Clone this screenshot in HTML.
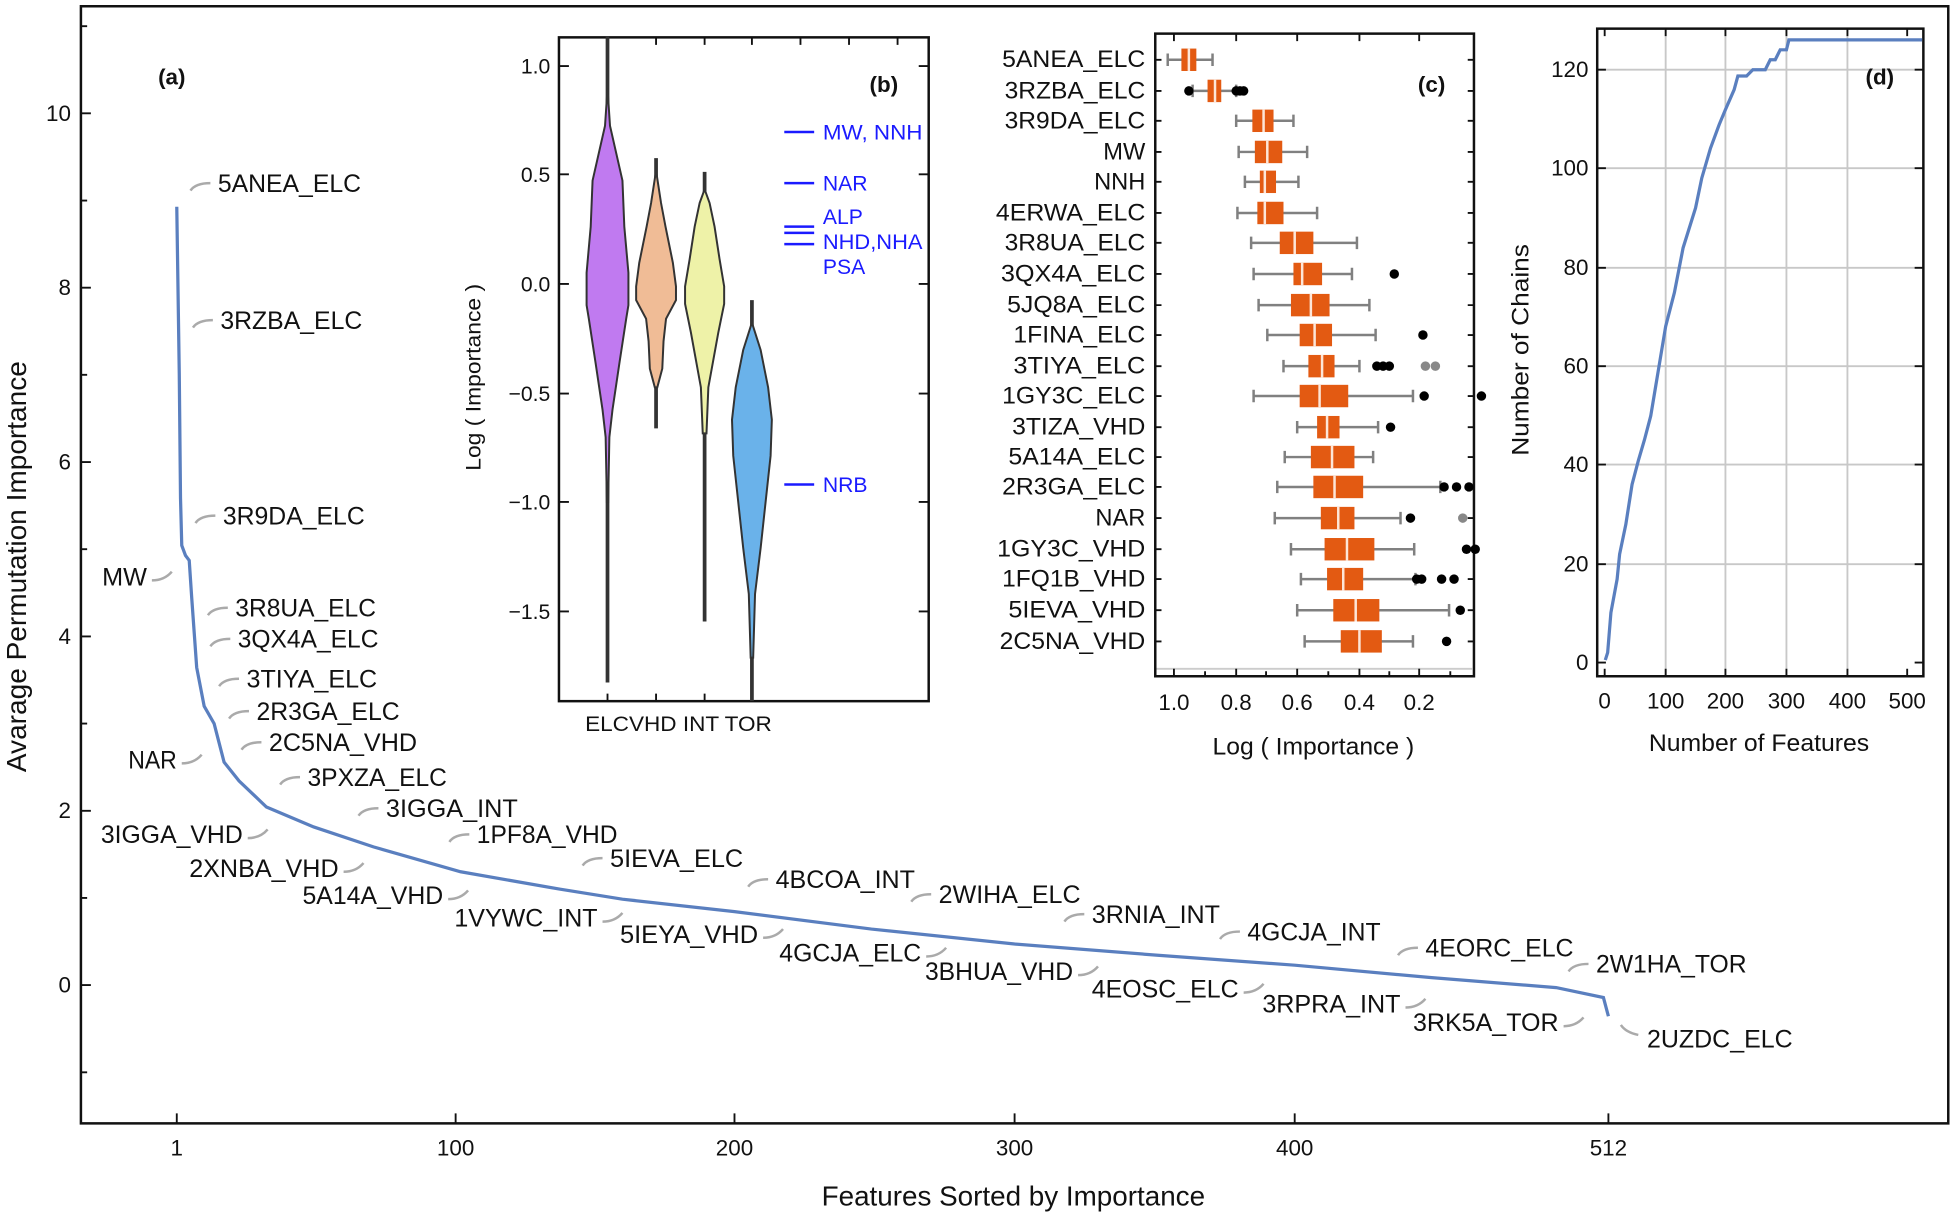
<!DOCTYPE html>
<html><head><meta charset="utf-8"><style>
html,body{margin:0;padding:0;background:#fff}
svg{display:block}
text{font-family:"Liberation Sans",sans-serif;fill:#111}
.lab{font-size:20px}
.tk{font-size:17px}
.ld{fill:none;stroke:#aaa;stroke-width:2}
.ax{fill:none;stroke:#111;stroke-width:2}
.bl{fill:#1a1aff;font-size:17px}
.bx{fill:#e35a12}
.md{stroke:#fde6d8;stroke-width:2}
.wh{stroke:#808080;stroke-width:2;fill:none}
.vi{stroke:#333;stroke-width:1.6}
</style></head><body>
<svg width="1952" height="1218" viewBox="0 0 1568 978" preserveAspectRatio="none" xmlns="http://www.w3.org/2000/svg">
<path class="ax" d="M65 5 H1565 V902 H65 Z"/>
<g stroke="#111" stroke-width="1.5">
<path d="M65 91h8M65 231h8M65 371h8M65 511h8M65 651h8M65 791h8M65 861h5M65 721h5M65 581h5M65 441h5M65 301h5M65 161h5M65 21h5"/>
<path d="M142 902v-8M366 902v-8M590 902v-8M815 902v-8M1040 902v-8M1292 902v-8"/>
</g>
<g class="tk" text-anchor="end" style="font-size:18px">
<text x="57" y="97">10</text><text x="57" y="237">8</text><text x="57" y="377">6</text>
<text x="57" y="517">4</text><text x="57" y="657">2</text><text x="57" y="797">0</text>
</g>
<g class="tk" text-anchor="middle" style="font-size:18px">
<text x="142" y="928">1</text><text x="366" y="928">100</text><text x="590" y="928">200</text>
<text x="815" y="928">300</text><text x="1040" y="928">400</text><text x="1292" y="928">512</text>
</g>
<text x="814" y="968" text-anchor="middle" style="font-size:22px" textLength="308" lengthAdjust="spacingAndGlyphs">Features Sorted by Importance</text>
<text transform="translate(21,455) rotate(-90)" text-anchor="middle" style="font-size:22px" textLength="330" lengthAdjust="spacingAndGlyphs">Avarage Permutation Importance</text>
<text x="138" y="68" style="font-size:18px;font-weight:bold" text-anchor="middle">(a)</text>
<polyline fill="none" stroke="#5a7fbf" stroke-width="2.6" points="142,166 144,300 145,400 146,438 149,446 152,450 154,480 158,536 164,567 172,581 180,612 192,627 214,648 252,664 300,680 370,700 450,714 500,722 590,732 700,746 815,758 930,767 1040,775 1150,785 1250,793 1288,801 1292,816"/>
<g class="lab" lengthAdjust="spacingAndGlyphs">
<text x="175" y="154" textLength="115" lengthAdjust="spacingAndGlyphs">5ANEA_ELC</text>
<text x="177" y="264" textLength="114" lengthAdjust="spacingAndGlyphs">3RZBA_ELC</text>
<text x="179" y="421" textLength="114" lengthAdjust="spacingAndGlyphs">3R9DA_ELC</text>
<text x="189" y="495" textLength="113" lengthAdjust="spacingAndGlyphs">3R8UA_ELC</text>
<text x="191" y="520" textLength="113" lengthAdjust="spacingAndGlyphs">3QX4A_ELC</text>
<text x="198" y="552" textLength="105" lengthAdjust="spacingAndGlyphs">3TIYA_ELC</text>
<text x="206" y="578" textLength="115" lengthAdjust="spacingAndGlyphs">2R3GA_ELC</text>
<text x="216" y="603" textLength="119" lengthAdjust="spacingAndGlyphs">2C5NA_VHD</text>
<text x="247" y="631" textLength="112" lengthAdjust="spacingAndGlyphs">3PXZA_ELC</text>
<text x="310" y="656" textLength="106" lengthAdjust="spacingAndGlyphs">3IGGA_INT</text>
<text x="383" y="677" textLength="113" lengthAdjust="spacingAndGlyphs">1PF8A_VHD</text>
<text x="490" y="696" textLength="107" lengthAdjust="spacingAndGlyphs">5IEVA_ELC</text>
<text x="623" y="713" textLength="112" lengthAdjust="spacingAndGlyphs">4BCOA_INT</text>
<text x="754" y="725" textLength="114" lengthAdjust="spacingAndGlyphs">2WIHA_ELC</text>
<text x="877" y="741" textLength="103" lengthAdjust="spacingAndGlyphs">3RNIA_INT</text>
<text x="1002" y="755" textLength="107" lengthAdjust="spacingAndGlyphs">4GCJA_INT</text>
<text x="1145" y="768" textLength="119" lengthAdjust="spacingAndGlyphs">4EORC_ELC</text>
<text x="1282" y="781" textLength="121" lengthAdjust="spacingAndGlyphs">2W1HA_TOR</text>
<text x="1323" y="841" textLength="117" lengthAdjust="spacingAndGlyphs">2UZDC_ELC</text>
</g>
<g class="lab" text-anchor="end">
<text x="118" y="470" textLength="36" lengthAdjust="spacingAndGlyphs">MW</text>
<text x="142" y="617" textLength="39" lengthAdjust="spacingAndGlyphs">NAR</text>
<text x="195" y="677" textLength="114" lengthAdjust="spacingAndGlyphs">3IGGA_VHD</text>
<text x="272" y="704" textLength="120" lengthAdjust="spacingAndGlyphs">2XNBA_VHD</text>
<text x="356" y="726" textLength="113" lengthAdjust="spacingAndGlyphs">5A14A_VHD</text>
<text x="480" y="744" textLength="115" lengthAdjust="spacingAndGlyphs">1VYWC_INT</text>
<text x="609" y="757" textLength="111" lengthAdjust="spacingAndGlyphs">5IEYA_VHD</text>
<text x="740" y="772" textLength="114" lengthAdjust="spacingAndGlyphs">4GCJA_ELC</text>
<text x="862" y="787" textLength="119" lengthAdjust="spacingAndGlyphs">3BHUA_VHD</text>
<text x="995" y="801" textLength="118" lengthAdjust="spacingAndGlyphs">4EOSC_ELC</text>
<text x="1125" y="813" textLength="111" lengthAdjust="spacingAndGlyphs">3RPRA_INT</text>
<text x="1252" y="828" textLength="117" lengthAdjust="spacingAndGlyphs">3RK5A_TOR</text>
</g>
<g class="ld">
<path d="M153 153q4-6 16-6"/><path d="M155 263q4-6 16-6"/><path d="M157 420q4-6 16-6"/>
<path d="M167 494q4-6 16-6"/><path d="M169 519q4-6 16-6"/><path d="M176 551q4-6 16-6"/>
<path d="M184 577q4-6 16-6"/><path d="M194 602q4-6 16-6"/><path d="M225 630q4-6 16-6"/>
<path d="M288 655q4-6 16-6"/><path d="M361 676q4-6 16-6"/><path d="M468 695q4-6 16-6"/>
<path d="M601 712q4-6 16-6"/><path d="M732 724q4-6 16-6"/><path d="M855 740q4-6 16-6"/>
<path d="M980 754q4-6 16-6"/><path d="M1123 767q4-6 16-6"/><path d="M1260 780q4-6 16-6"/>
<path d="M1302 823q4 6 14 8"/>
<path d="M122 466q10 0 16-7"/><path d="M146 613q10 0 16-7"/><path d="M199 673q10 0 16-7"/>
<path d="M276 700q10 0 16-7"/><path d="M360 722q10 0 16-7"/><path d="M484 740q10 0 16-7"/>
<path d="M613 753q10 0 16-7"/><path d="M744 768q10 0 16-7"/><path d="M866 783q10 0 16-7"/>
<path d="M999 797q10 0 16-7"/><path d="M1129 809q10 0 16-7"/><path d="M1256 824q10 0 16-7"/>
</g>

<!-- panel (b) -->
<rect x="449" y="30" width="297" height="533" fill="#fff" class="ax"/>
<g stroke="#111" stroke-width="1.5">
<path d="M449 53h8M449 140h8M449 228h8M449 316h8M449 403h8M449 491h8"/>
<path d="M746 53h-8M746 140h-8M746 228h-8M746 316h-8M746 403h-8M746 491h-8"/>
<path d="M488 563v-6M527 563v-6M566 563v-6M604 563v-6M488 30v6M527 30v6M566 30v6M604 30v6M643 30v6M682 30v6M721 30v6"/>
</g>
<g class="tk" text-anchor="end">
<text x="442" y="59">1.0</text><text x="442" y="146">0.5</text><text x="442" y="234">0.0</text>
<text x="442" y="322">−0.5</text><text x="442" y="409">−1.0</text><text x="442" y="497">−1.5</text>
</g>
<text class="tk" x="545" y="587" text-anchor="middle" textLength="150" lengthAdjust="spacingAndGlyphs">ELCVHD INT TOR</text>
<text class="tk" transform="translate(386,303) rotate(-90)" text-anchor="middle" textLength="150" lengthAdjust="spacingAndGlyphs">Log ( Importance )</text>
<text x="710" y="74" style="font-size:18px;font-weight:bold" text-anchor="middle">(b)</text>
<g stroke="#333" stroke-width="3">
<path d="M488 29V548M527 127V344M566 138V499M604 241V563"/>
</g>
<path class="vi" fill="#c07af0" d="M488 71L490 101L500 145L501.5 182L504.8 219L504.8 245L503 256L497.5 292L492 329L489.5 351L488.5 403L487.5 403L486.5 351L484 329L478.5 292L473 256L471.2 245L471.2 219L474.5 182L476 145L486 101Z"/>
<path class="vi" fill="#f0bc96" d="M527 137L531 163L534.6 182L540.5 211L543 230L543 241L535 256L533 274L532 296L528 311L526 311L522 296L521 274L519 256L511 241L511 230L513.5 211L519.4 182L523 163Z"/>
<path class="vi" fill="#eef2a8" d="M566 152L570 163L574 182L578 208L581.7 230L581.7 244L577 267L573 289L569 311L567.5 348L564.5 348L563 311L559 289L555 267L550.3 244L550.3 230L554 208L558 182L562 163Z"/>
<path class="vi" fill="#6ab2ea" d="M604 259L611 281L617 311L620 337L619 366L615 403L611 440L606.5 477L605 528L603 528L601.5 477L597 440L593 403L589 366L588 337L591 311L597 281Z"/>
<g stroke="#1a1aff" stroke-width="2">
<path d="M630 106H654M630 147H654M630 182H654M630 187H654M630 196H654M630 389H654"/>
</g>
<text class="bl" x="661" y="112" textLength="80" lengthAdjust="spacingAndGlyphs">MW, NNH</text>
<text class="bl" x="661" y="153">NAR</text>
<text class="bl" x="661" y="180">ALP</text>
<text class="bl" x="661" y="200" textLength="80" lengthAdjust="spacingAndGlyphs">NHD,NHA</text>
<text class="bl" x="661" y="220">PSA</text>
<text class="bl" x="661" y="395">NRB</text>

<!-- panel (c) -->
<rect x="928" y="27" width="256" height="516" fill="#fff" class="ax"/>
<path d="M929 537H1183" stroke="#ccc" stroke-width="1.5"/>
<g stroke="#111" stroke-width="1.5">
<path d="M943 543v-6M993 543v-6M1042 543v-6M1092 543v-6M1140 543v-6M968 543v-4M1017 543v-4M1067 543v-4M1116 543v-4M1165 543v-4"/>
<path d="M943 27v6M993 27v6M1042 27v6M1092 27v6M1140 27v6"/>
</g>
<g class="tk" text-anchor="middle" style="font-size:18px">
<text x="943" y="570">1.0</text><text x="993" y="570">0.8</text><text x="1042" y="570">0.6</text>
<text x="1092" y="570">0.4</text><text x="1140" y="570">0.2</text>
</g>
<text x="1055" y="606" text-anchor="middle" style="font-size:19px" textLength="162" lengthAdjust="spacingAndGlyphs">Log ( Importance )</text>
<text x="1150" y="74" style="font-size:18px;font-weight:bold" text-anchor="middle">(c)</text>
<g text-anchor="end" style="font-size:19px">
<text x="920" y="54" textLength="115" lengthAdjust="spacingAndGlyphs">5ANEA_ELC</text><text x="920" y="79" textLength="113" lengthAdjust="spacingAndGlyphs">3RZBA_ELC</text><text x="920" y="103" textLength="113" lengthAdjust="spacingAndGlyphs">3R9DA_ELC</text>
<text x="920" y="128">MW</text><text x="920" y="152">NNH</text><text x="920" y="177" textLength="120" lengthAdjust="spacingAndGlyphs">4ERWA_ELC</text>
<text x="920" y="201" textLength="113" lengthAdjust="spacingAndGlyphs">3R8UA_ELC</text><text x="920" y="226" textLength="116" lengthAdjust="spacingAndGlyphs">3QX4A_ELC</text><text x="920" y="251" textLength="111" lengthAdjust="spacingAndGlyphs">5JQ8A_ELC</text>
<text x="920" y="275" textLength="106" lengthAdjust="spacingAndGlyphs">1FINA_ELC</text><text x="920" y="300" textLength="106" lengthAdjust="spacingAndGlyphs">3TIYA_ELC</text><text x="920" y="324" textLength="115" lengthAdjust="spacingAndGlyphs">1GY3C_ELC</text>
<text x="920" y="349" textLength="107" lengthAdjust="spacingAndGlyphs">3TIZA_VHD</text><text x="920" y="373" textLength="110" lengthAdjust="spacingAndGlyphs">5A14A_ELC</text><text x="920" y="397" textLength="115" lengthAdjust="spacingAndGlyphs">2R3GA_ELC</text>
<text x="920" y="422">NAR</text><text x="920" y="447" textLength="119" lengthAdjust="spacingAndGlyphs">1GY3C_VHD</text><text x="920" y="471" textLength="115" lengthAdjust="spacingAndGlyphs">1FQ1B_VHD</text>
<text x="920" y="496" textLength="110" lengthAdjust="spacingAndGlyphs">5IEVA_VHD</text><text x="920" y="521" textLength="117" lengthAdjust="spacingAndGlyphs">2C5NA_VHD</text>
</g>
<g stroke="#111" stroke-width="1.5">
<path d="M928 48h5M928 73h5M928 97h5M928 122h5M928 146h5M928 171h5M928 195h5M928 220h5M928 245h5M928 269h5M928 294h5M928 318h5M928 343h5M928 367h5M928 391h5M928 416h5M928 441h5M928 465h5M928 490h5M928 515h5"/>
<path d="M1184 48h-5M1184 73h-5M1184 97h-5M1184 122h-5M1184 146h-5M1184 171h-5M1184 195h-5M1184 220h-5M1184 245h-5M1184 269h-5M1184 294h-5M1184 318h-5M1184 343h-5M1184 367h-5M1184 391h-5M1184 416h-5M1184 441h-5M1184 465h-5M1184 490h-5M1184 515h-5"/>
</g>
<g class="wh">
<path d="M938 48H974M938 43v10M974 43v10"/>
<path d="M958 73H993M958 68v10M993 68v10"/>
<path d="M993 97H1039M993 92v10M1039 92v10"/>
<path d="M995 122H1050M995 117v10M1050 117v10"/>
<path d="M1000 146H1043M1000 141v10M1043 141v10"/>
<path d="M994 171H1058M994 166v10M1058 166v10"/>
<path d="M1005 195H1090M1005 190v10M1090 190v10"/>
<path d="M1007 220H1086M1007 215v10M1086 215v10"/>
<path d="M1011 245H1100M1011 240v10M1100 240v10"/>
<path d="M1018 269H1105M1018 264v10M1105 264v10"/>
<path d="M1031 294H1092M1031 289v10M1092 289v10"/>
<path d="M1007 318H1135M1007 313v10M1135 313v10"/>
<path d="M1042 343H1107M1042 338v10M1107 338v10"/>
<path d="M1032 367H1103M1032 362v10M1103 362v10"/>
<path d="M1026 391H1157M1026 386v10M1157 386v10"/>
<path d="M1024 416H1125M1024 411v10M1125 411v10"/>
<path d="M1037 441H1136M1037 436v10M1136 436v10"/>
<path d="M1045 465H1137M1045 460v10M1137 460v10"/>
<path d="M1042 490H1164M1042 485v10M1164 485v10"/>
<path d="M1048 515H1135M1048 510v10M1135 510v10"/>
</g>
<g class="bx">
<rect x="949" y="39" width="12" height="18"/><rect x="970" y="64" width="11" height="18"/>
<rect x="1006" y="88" width="17" height="18"/><rect x="1008" y="113" width="22" height="18"/>
<rect x="1012" y="137" width="13" height="18"/><rect x="1010" y="162" width="21" height="18"/>
<rect x="1028" y="186" width="27" height="18"/><rect x="1039" y="211" width="23" height="18"/>
<rect x="1037" y="236" width="31" height="18"/><rect x="1044" y="260" width="26" height="18"/>
<rect x="1051" y="285" width="21" height="18"/><rect x="1044" y="309" width="39" height="18"/>
<rect x="1058" y="334" width="18" height="18"/><rect x="1053" y="358" width="35" height="18"/>
<rect x="1055" y="382" width="40" height="18"/><rect x="1061" y="407" width="27" height="18"/>
<rect x="1064" y="432" width="40" height="18"/><rect x="1066" y="456" width="29" height="18"/>
<rect x="1071" y="481" width="37" height="18"/><rect x="1077" y="506" width="33" height="18"/>
</g>
<g class="md">
<path d="M955 39v18M976 64v18M1015 88v18M1018 113v18M1016 137v18M1016 162v18M1040 186v18M1046 211v18M1053 236v18M1056 260v18M1062 285v18M1060 309v18M1066 334v18M1070 358v18M1072 382v18M1075 407v18M1082 432v18M1079 456v18M1089 481v18M1092 506v18"/>
</g>
<g fill="#000">
<circle cx="955" cy="73" r="3.8"/><circle cx="993" cy="73" r="3.8"/><circle cx="996" cy="73" r="3.8"/><circle cx="999" cy="73" r="3.8"/>
<circle cx="1120" cy="220" r="3.8"/><circle cx="1143" cy="269" r="3.8"/>
<circle cx="1106" cy="294" r="3.8"/><circle cx="1111" cy="294" r="3.8"/><circle cx="1116" cy="294" r="3.8"/>
<circle cx="1144" cy="318" r="3.8"/><circle cx="1190" cy="318" r="3.8"/><circle cx="1117" cy="343" r="3.8"/>
<circle cx="1160" cy="391" r="3.8"/><circle cx="1170" cy="391" r="3.8"/><circle cx="1180" cy="391" r="3.8"/>
<circle cx="1133" cy="416" r="3.8"/><circle cx="1178" cy="441" r="3.8"/><circle cx="1185" cy="441" r="3.8"/>
<circle cx="1138" cy="465" r="3.8"/><circle cx="1142" cy="465" r="3.8"/><circle cx="1158" cy="465" r="3.8"/><circle cx="1168" cy="465" r="3.8"/>
<circle cx="1173" cy="490" r="3.8"/><circle cx="1162" cy="515" r="3.8"/>
</g>
<g fill="#888"><circle cx="1145" cy="294" r="3.8"/><circle cx="1153" cy="294" r="3.8"/><circle cx="1175" cy="416" r="3.8"/></g>

<!-- panel (d) -->
<rect x="1283" y="23" width="262" height="520" fill="#fff" class="ax"/>
<g stroke="#c8c8c8" stroke-width="1.5">
<path d="M1284 453H1544M1284 373H1544M1284 294H1544M1284 215H1544M1284 135H1544M1284 56H1544"/>
<path d="M1338 24V542M1386 24V542M1435 24V542M1484 24V542"/>
</g>
<g stroke="#111" stroke-width="1.5">
<path d="M1283 532h7M1283 453h7M1283 373h7M1283 294h7M1283 215h7M1283 135h7M1283 56h7M1545 532h-7M1545 453h-7M1545 373h-7M1545 294h-7M1545 215h-7M1545 135h-7M1545 56h-7"/>
<path d="M1289 543v-6M1338 543v-6M1386 543v-6M1435 543v-6M1484 543v-6M1532 543v-6M1289 23v6M1338 23v6M1386 23v6M1435 23v6M1484 23v6M1532 23v6"/>
</g>
<g class="tk" text-anchor="end" style="font-size:18px">
<text x="1276" y="538">0</text><text x="1276" y="459">20</text><text x="1276" y="379">40</text>
<text x="1276" y="300">60</text><text x="1276" y="221">80</text><text x="1276" y="141">100</text><text x="1276" y="62">120</text>
</g>
<g class="tk" text-anchor="middle" style="font-size:18px">
<text x="1289" y="569">0</text><text x="1338" y="569">100</text><text x="1386" y="569">200</text>
<text x="1435" y="569">300</text><text x="1484" y="569">400</text><text x="1532" y="569">500</text>
</g>
<text x="1413" y="603" text-anchor="middle" style="font-size:19px" textLength="177" lengthAdjust="spacingAndGlyphs">Number of Features</text>
<text transform="translate(1228,281) rotate(-90)" text-anchor="middle" style="font-size:19px" textLength="170" lengthAdjust="spacingAndGlyphs">Number of Chains</text>
<text x="1510" y="68" style="font-size:18px;font-weight:bold" text-anchor="middle">(d)</text>
<polyline fill="none" stroke="#5a7fbf" stroke-width="2.6" points="1289.5,530 1291.4,524 1294,492 1299,465 1301,445 1306,421 1311,389 1316,370 1321,353 1326,334 1330,310 1338,262 1345,235 1352,199 1362,167 1367,143 1374,119 1381,100 1386,88 1393,72 1396,61 1403,61 1408,56 1418,56 1422,48 1426,48 1430,40 1435,40 1437,32 1544,32"/>
</svg>
</body></html>
